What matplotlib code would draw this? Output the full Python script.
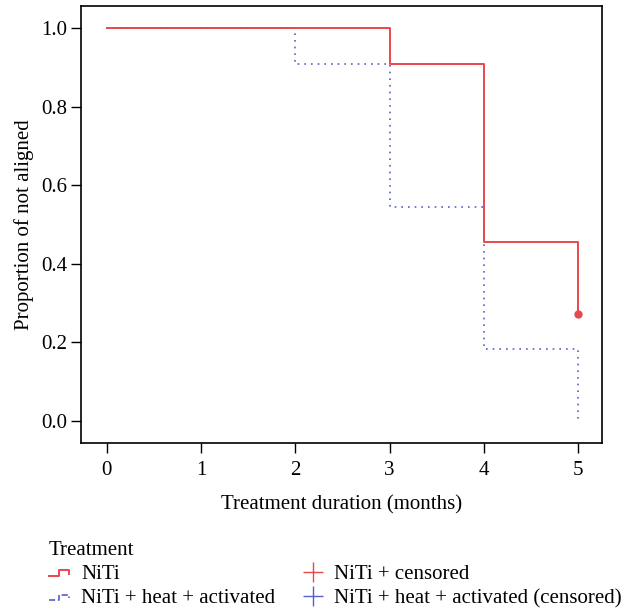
#!/usr/bin/env python3

"""Kaplan-Meier style step chart: proportion of teeth not aligned over time."""

import matplotlib

matplotlib.use("Agg")

import matplotlib.pyplot as plt
from matplotlib.legend_handler import HandlerBase
from matplotlib.lines import Line2D

# survival curves (step post)
niti_time = [0, 3, 4, 5]
niti_surv = [1.0, 0.909, 0.4545, 0.273]
heat_time = [0, 2, 3, 4, 5]
heat_surv = [1.0, 0.909, 0.545, 0.182, 0.0]
censor_time = [5]
censor_surv = [0.273]

x_ticks = [0, 1, 2, 3, 4, 5]
y_ticks = [0.0, 0.2, 0.4, 0.6, 0.8, 1.0]

RED = "#e8474c"
BLUE = "#5560c8"

plt.rcParams["font.family"] = ["Liberation Serif", "DejaVu Serif"]
plt.rcParams["font.size"] = 15


class StepHandler(HandlerBase):
    """Draw a small step glyph in the legend, like R's survival plots."""

    def create_artists(self, legend, orig_handle, xdescent, ydescent,
                       width, height, fontsize, trans):
        w, h = width, height
        xs = [0, 0.45 * w, 0.45 * w, 0.9 * w, 0.9 * w]
        ys = [0.2 * h, 0.2 * h, 0.6 * h, 0.6 * h, 0.35 * h]
        line = Line2D(xs, ys, color=orig_handle.get_color(),
                      linewidth=orig_handle.get_linewidth(),
                      linestyle=orig_handle.get_linestyle(), transform=trans)
        return [line]


def main() -> None:
    fig = plt.figure(figsize=(6.35, 6.10), dpi=100)
    ax = fig.add_axes([0.1276, 0.2738, 0.8204, 0.7162])

    ax.step(heat_time, heat_surv, where="post", color=BLUE,
            linestyle=(0, (1, 3)), linewidth=1.2)
    ax.step(niti_time, niti_surv, where="post", color=RED, linewidth=1.4)
    ax.plot(censor_time, censor_surv, "o", color=RED, markersize=5)

    ax.set_xlim(-0.275, 5.255)
    ax.set_ylim(-0.056, 1.056)
    ax.set_xticks(x_ticks)
    ax.set_yticks(y_ticks)
    ax.set_yticklabels([f"{v:.1f}" for v in y_ticks])
    ax.tick_params(direction="out", length=7, width=1)
    ax.tick_params(axis="x", pad=6)
    ax.tick_params(axis="y", pad=3)
    for spine in ax.spines.values():
        spine.set_linewidth(1.2)

    ax.set_xlabel("Treatment duration (months)", labelpad=11)
    ax.set_ylabel("Proportion of not aligned", labelpad=5)

    h_niti = Line2D([], [], color=RED, linewidth=1.4)
    h_heat = Line2D([], [], color=BLUE, linestyle=(0, (1, 3)), linewidth=1.2)
    h_cens = Line2D([], [], color=RED, marker="+", markersize=15,
                    linestyle="none")
    h_cens2 = Line2D([], [], color=BLUE, marker="+", markersize=15,
                     linestyle="none")
    fig.legend(
        [h_niti, h_heat, h_cens, h_cens2],
        ["NiTi", "NiTi + heat + activated", "NiTi + censored",
         "NiTi + heat + activated (censored)"],
        handler_map={h_niti: StepHandler(), h_heat: StepHandler()},
        ncol=2, loc="upper left", bbox_to_anchor=(0.0772, 0.113),
        frameon=False, title="Treatment", alignment="left",
        handlelength=1.06, handletextpad=0.48, columnspacing=1.3,
        labelspacing=0.22, borderaxespad=0, borderpad=0,
    )

    fig.savefig("out.png", dpi=100)
    plt.close(fig)


if __name__ == "__main__":
    main()
